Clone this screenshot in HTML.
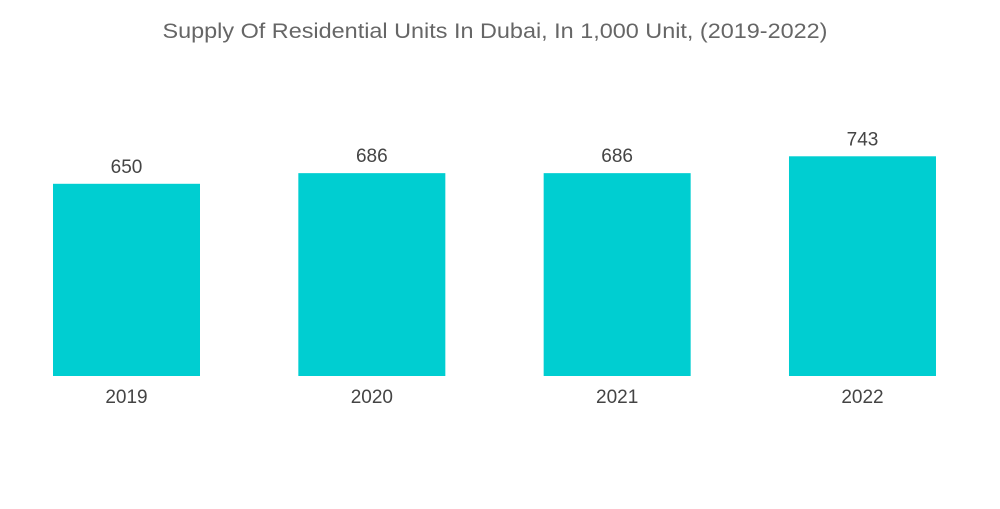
<!DOCTYPE html>
<html>
<head>
<meta charset="utf-8">
<style>
  html,body{margin:0;padding:0;background:#fff;}
  body{width:1000px;height:504px;overflow:hidden;font-family:"Liberation Sans",sans-serif;}
  svg text{font-family:"Liberation Sans",sans-serif;}
</style>
</head>
<body>
<svg id="chart" width="1000" height="504">
  <text x="495" y="38" text-anchor="middle" font-size="21" textLength="665" lengthAdjust="spacingAndGlyphs" fill="#666">Supply Of Residential Units In Dubai, In 1,000 Unit, (2019-2022)</text>
  <g id="bars"></g>
</svg>
<script>
const categories = ["2019", "2020", "2021", "2022"];
const values = [650, 686, 686, 743];
const valueLabels = ["650", "686", "686", "743"];

const svg = document.getElementById('chart');
const g = document.getElementById('bars');
const NS = 'http://www.w3.org/2000/svg';
const baseline = 376;
const pxPerUnit = 0.2957;
const firstX = 53, step = 245.33, barW = 147;
function xPos(i){ return firstX + i * step; }
function yPos(v){ return baseline - v * pxPerUnit; }

categories.forEach((c, i) => {
  const x = xPos(i), y = yPos(values[i]);
  const r = document.createElementNS(NS, 'rect');
  r.setAttribute('x', x); r.setAttribute('y', y);
  r.setAttribute('width', barW); r.setAttribute('height', baseline - y);
  r.setAttribute('fill', '#00CED1');
  
  
  g.appendChild(r);

  const t = document.createElementNS(NS, 'text');
  t.setAttribute('x', x + barW / 2); t.setAttribute('y', y - 11);
  t.setAttribute('text-anchor', 'middle'); t.setAttribute('font-size', '19');
  t.setAttribute('fill', '#444');
  t.textContent = valueLabels[i];
  
  
  g.appendChild(t);

  const l = document.createElementNS(NS, 'text');
  l.setAttribute('x', x + barW / 2); l.setAttribute('y', baseline + 27);
  l.setAttribute('text-anchor', 'middle'); l.setAttribute('font-size', '19');
  l.setAttribute('fill', '#444');
  l.textContent = c;
  
  
  g.appendChild(l);
});
</script>
</body>
</html>
